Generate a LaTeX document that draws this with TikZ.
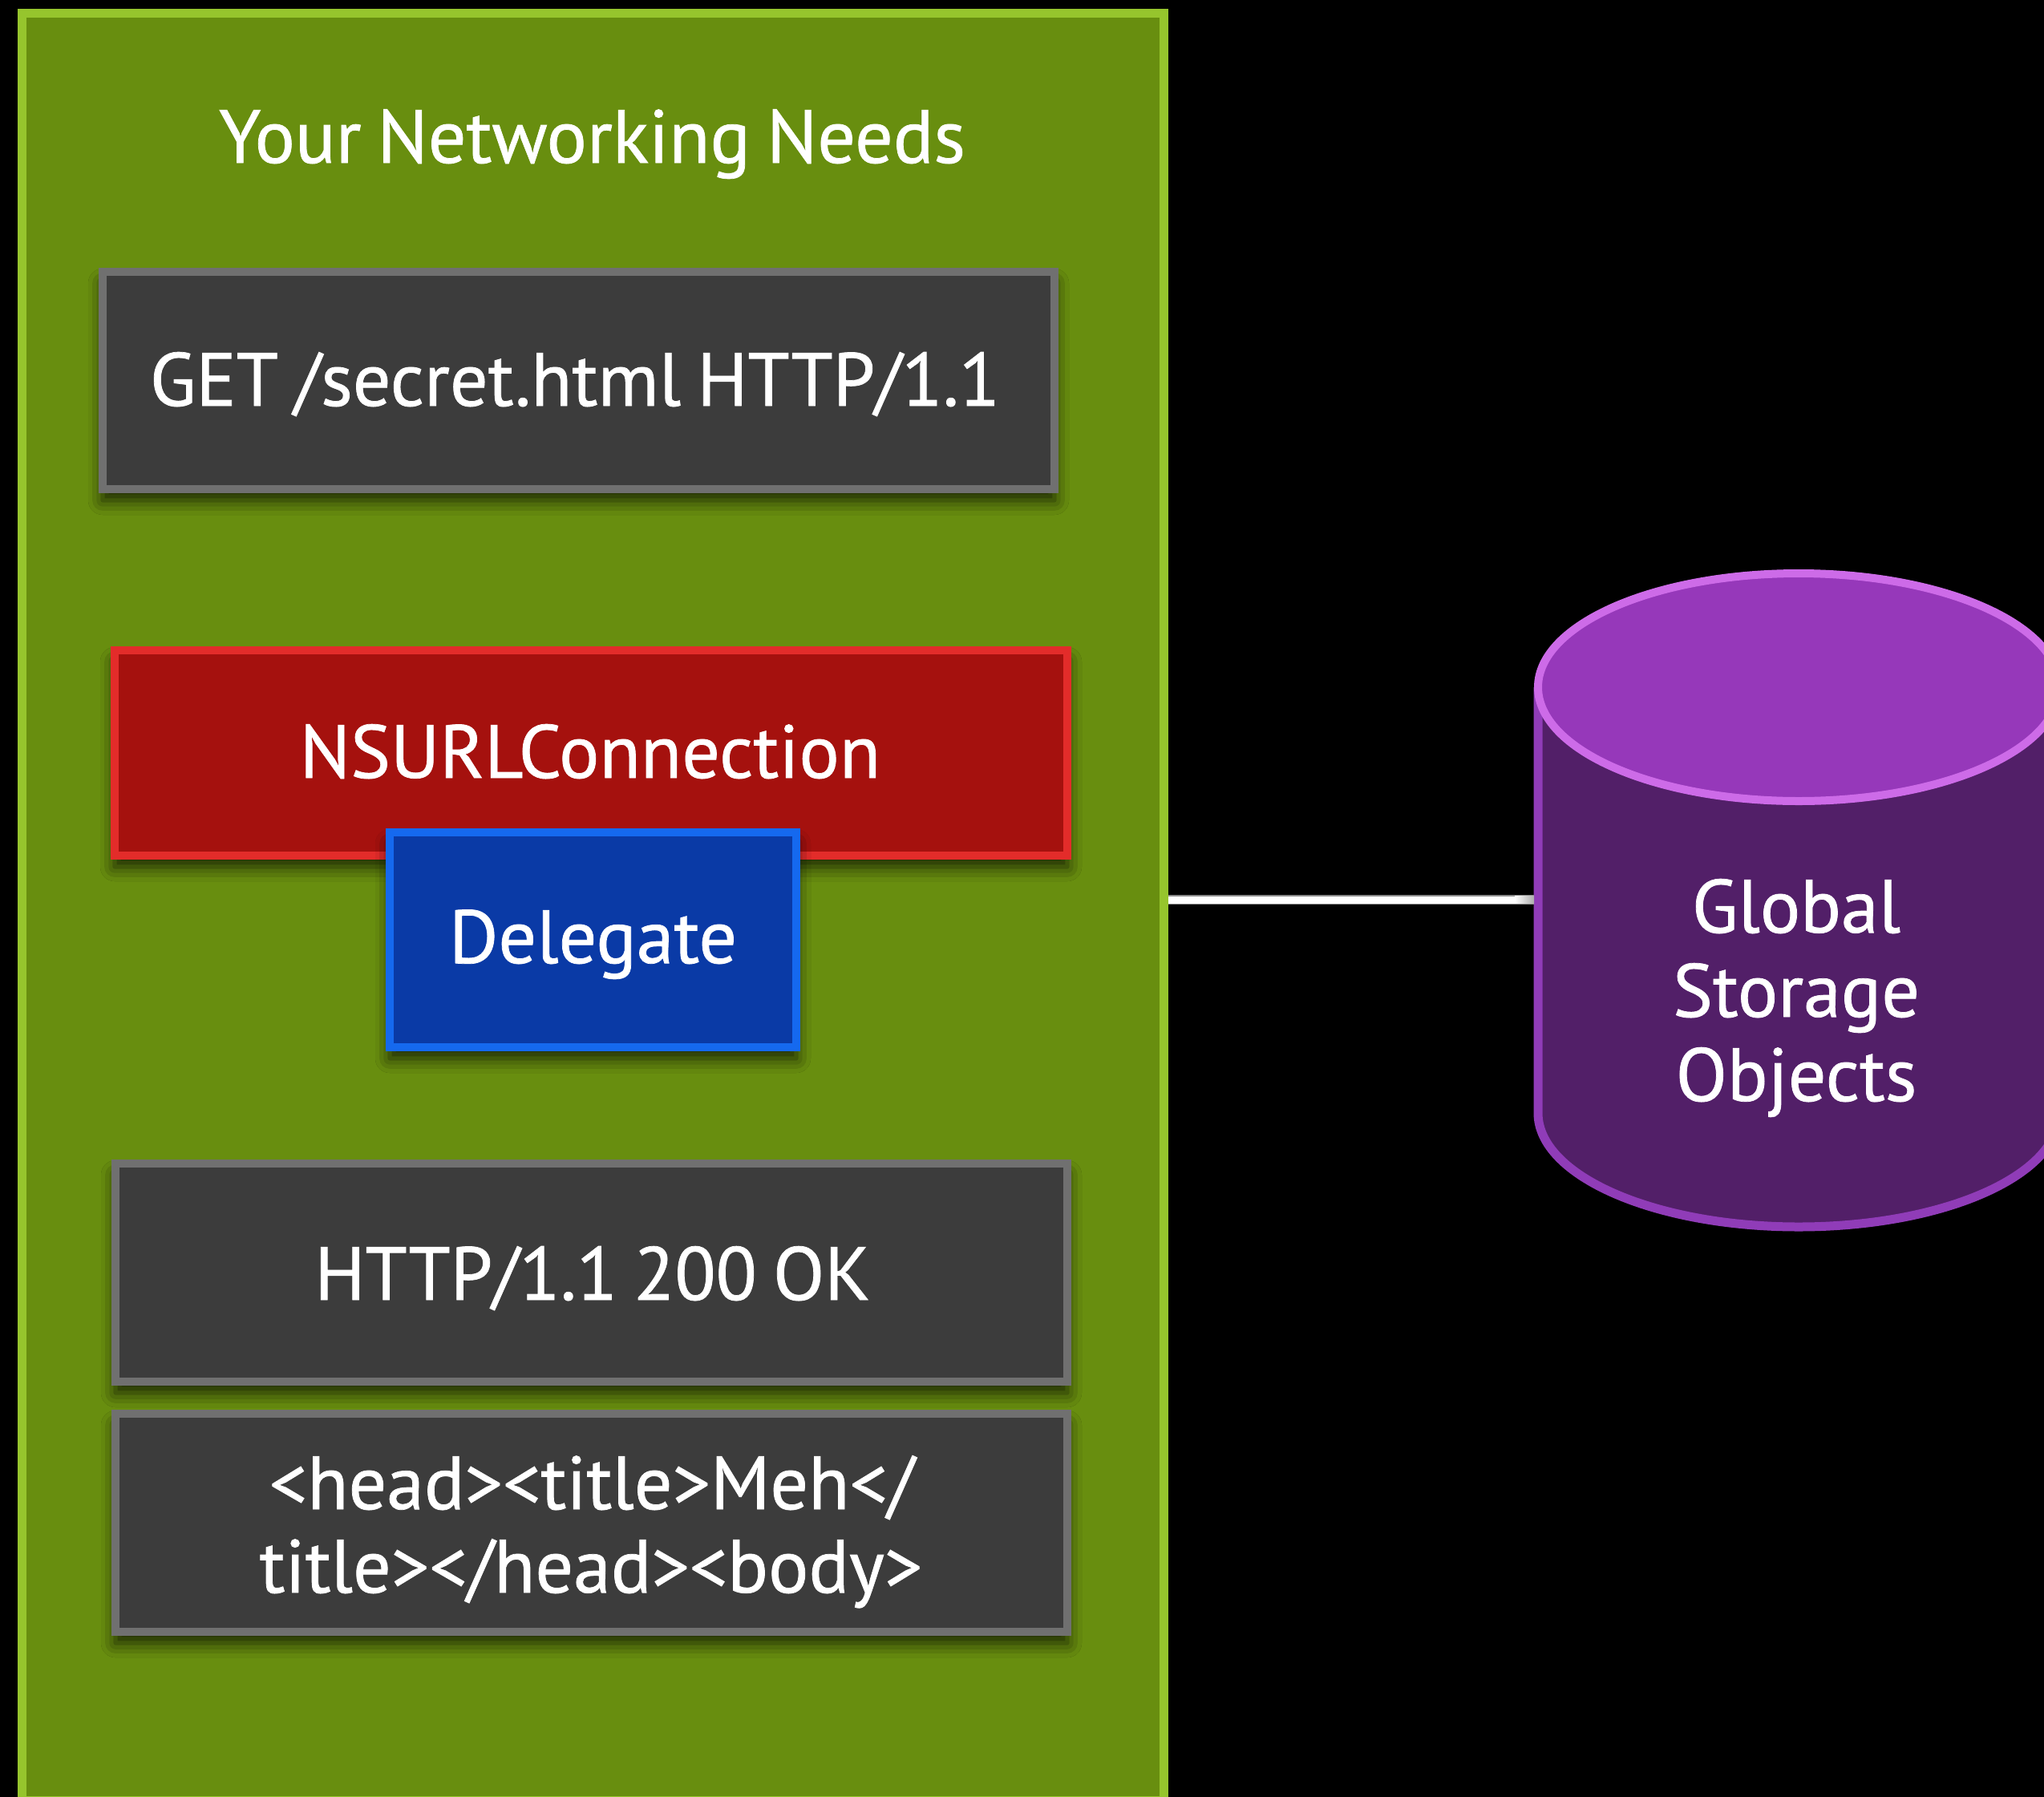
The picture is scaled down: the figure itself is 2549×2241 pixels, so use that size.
\documentclass[tikz,border=0pt]{standalone}
\usepackage{fontspec}
\setmainfont[FakeBold=0.8,WordSpace=0.8]{PT Sans}
\usetikzlibrary{shadows.blur,calc}

\definecolor{panelFill}{HTML}{688E0F}
\definecolor{panelEdge}{HTML}{96C52D}
\definecolor{greyFill}{HTML}{3C3C3C}
\definecolor{greyEdge}{HTML}{707070}
\definecolor{redFill}{HTML}{A5110E}
\definecolor{redEdge}{HTML}{E32C2A}
\definecolor{blueFill}{HTML}{0A3AA6}
\definecolor{blueEdge}{HTML}{1569EF}
\definecolor{cylTop}{HTML}{9638BA}
\definecolor{cylTopEdge}{HTML}{CD6BE8}
\definecolor{cylBody}{HTML}{521F68}
\definecolor{cylEdge}{HTML}{903CB8}
\definecolor{linkEdge}{HTML}{8A8A8A}

\begin{document}
\begin{tikzpicture}[x=1pt,y=-1pt,
  txt/.style={text=white, inner sep=0pt, font=\fontsize{94}{104}\selectfont},
  panel/.style={rectangle, draw=panelEdge, fill=panelFill, line width=11pt, inner sep=0pt},
  card/.style={rectangle, inner sep=0pt, outer sep=0pt, line width=10pt,
    blur shadow={shadow xshift=0pt, shadow yshift=-14pt, shadow blur radius=18pt, shadow opacity=75}},
  greycard/.style={card, draw=greyEdge, fill=greyFill},
  redcard/.style={card, draw=redEdge, fill=redFill},
  bluecard/.style={card, draw=blueEdge, fill=blueFill}
]
% canvas
\fill[black] (0,0) rectangle (2549,2241);
\clip (0,0) rectangle (2549,2241);

% green panel
\node[panel, minimum width=1424.5pt, minimum height=2229pt] (needs) at (739.25,1131) {};
\node[txt, anchor=base] (title) at (738.5,203) {Your Networking Needs};

% request line
\node[greycard, minimum width=1187pt, minimum height=271pt] (get) at (721.5,474.5) {};
\node[txt, anchor=base] (getText) at (717,506) {GET /secret.html HTTP/1.1};

% connection with its delegate
\node[redcard, minimum width=1188pt, minimum height=256pt] (conn) at (737,939) {};
\node[txt, anchor=base] (connText) at (736,970) {NSURLConnection};
\node[bluecard, minimum width=507pt, minimum height=268pt] (dlg) at (739.5,1172) {};
\node[txt, anchor=base] (dlgText) at (739.5,1201) {Delegate};

% response
\node[greycard, minimum width=1187pt, minimum height=272pt] (status) at (737.5,1587) {};
\node[txt, anchor=base] (statusText) at (739,1621) {HTTP/1.1 200 OK};
\node[greycard, minimum width=1187pt, minimum height=272pt] (body) at (737.5,1899) {};
\node[txt, anchor=base] (bodyA) at (738,1882) {<head><title>Meh</};
\node[txt, anchor=base] (bodyB) at (737,1986) {title></head><body>};

% storage cylinder
\def\cx{2243}
\def\rx{325}
\def\ry{142}
\fill[cylBody] (\cx-\rx,857) -- (\cx-\rx,1388)
  arc[start angle=180, end angle=0, x radius=\rx, y radius=\ry] -- (\cx+\rx,857) -- cycle;
\draw[cylEdge, line width=11pt] (\cx-\rx,857) -- (\cx-\rx,1388)
  arc[start angle=180, end angle=0, x radius=\rx, y radius=\ry] -- (\cx+\rx,857);
\draw[cylTopEdge, fill=cylTop, line width=10pt] (\cx,857) ellipse[x radius=\rx, y radius=\ry];
\coordinate (store) at (1913,1122);
\node[txt, anchor=base] (cylA) at (2240,1163) {Global};
\node[txt, anchor=base] (cylB) at (2240,1268) {Storage};
\node[txt, anchor=base] (cylC) at (2240,1373) {Objects};

% link between panel and storage
\draw[linkEdge, line width=12pt] (needs.east |- store) -- (store);
\draw[white, line width=9pt] (needs.east |- store) -- (store);
\shade[left color=white, right color=linkEdge!70] ($(store)+(-24,-4.5)$) rectangle ($(store)+(0,4.5)$);
\end{tikzpicture}
\end{document}
